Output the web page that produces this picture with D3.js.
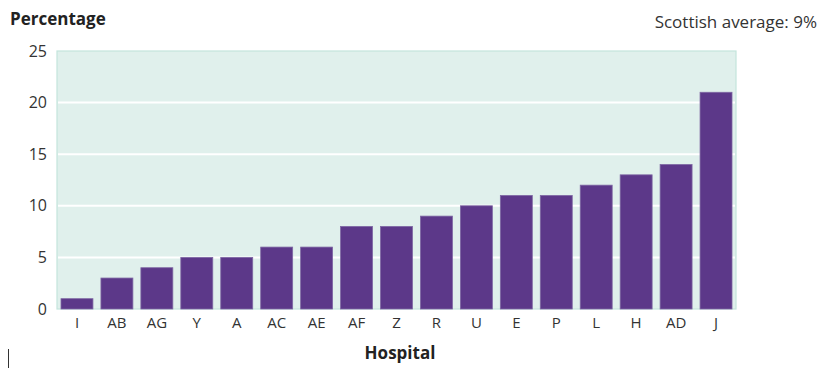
<!DOCTYPE html>
<html><head><meta charset="utf-8">
<script src="https://cdn.jsdelivr.net/npm/d3@7"></script>
<style>body{margin:0;background:#fff;}svg{display:block;font-family:"Open Sans","Noto Sans",sans-serif;}</style>
</head><body><svg id="c" width="834" height="369"></svg>
<script>
const categories = ["I","AB","AG","Y","A","AC","AE","AF","Z","R","U","E","P","L","H","AD","J"];
const values = [1,3,4,5,5,6,6,8,8,9,10,11,11,12,13,14,21];
const yTicks = [0,5,10,15,20,25];

const svg = d3.select("#c");
const m = {l:57, r:736, t:51, b:309};
const x = d3.scaleBand().domain(categories).range([m.l, m.r]).paddingInner(0.2).paddingOuter(0.1);
const y = d3.scaleLinear().domain([0,25]).range([m.b, m.t]);

svg.append("rect").attr("x", m.l).attr("y", m.t).attr("width", m.r-m.l).attr("height", m.b-m.t)
  .attr("fill", "#e0f0ec").attr("stroke", "#c4e4dc").attr("stroke-width", 1.2);

svg.append("g").selectAll("line").data(yTicks.filter(d=>d>0 && d<25)).join("line")
  .attr("x1", m.l+1).attr("x2", m.r-1).attr("y1", d=>y(d)).attr("y2", d=>y(d))
  .attr("stroke", "#fff").attr("stroke-width", 2);

svg.append("g").selectAll("rect").data(values).join("rect")
  .attr("x", (d,i)=>x(categories[i])).attr("width", x.bandwidth())
  .attr("y", d=>y(d)).attr("height", d=>y(0)-y(d))
  .attr("fill", "#5c3889").attr("stroke", "#7e67a3").attr("stroke-width", 0.8);

const yAxis = d3.axisLeft(y).tickValues(yTicks).tickSize(0).tickPadding(10);
const gy = svg.append("g").attr("transform", `translate(${m.l},0)`).call(yAxis);
gy.select(".domain").remove();
gy.selectAll("text").attr("font-size", 16).attr("fill", "#333").style("font-family", '"Open Sans","Noto Sans",sans-serif');

const xAxis = d3.axisBottom(x).tickSize(0).tickPadding(8);
const gx = svg.append("g").attr("transform", `translate(0,${m.b})`).call(xAxis);
gx.select(".domain").remove();
gx.selectAll("text").attr("font-size", 15).attr("fill", "#333").style("font-family", '"Open Sans","Noto Sans",sans-serif');

svg.append("text").attr("x", 10).attr("y", 25).attr("font-size", 17).attr("font-weight", "bold").attr("fill", "#222").text("Percentage");
svg.append("text").attr("x", 817).attr("y", 28).attr("text-anchor", "end").attr("font-size", 17).attr("fill", "#333").text("Scottish average: 9%");
svg.append("text").attr("x", 400).attr("y", 359).attr("text-anchor", "middle").attr("font-size", 17).attr("font-weight", "bold").attr("fill", "#222").text("Hospital");
svg.append("line").attr("x1", 8.5).attr("x2", 8.5).attr("y1", 349).attr("y2", 368).attr("stroke", "#333").attr("stroke-width", 1);
</script></body></html>
